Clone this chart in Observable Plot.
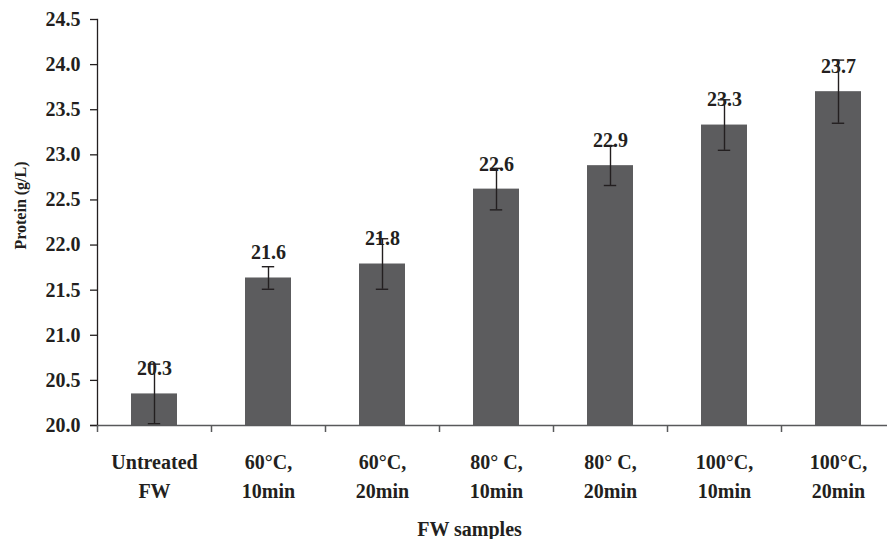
<!DOCTYPE html>
<html>
<head>
<meta charset="utf-8">
<script src="https://cdn.jsdelivr.net/npm/d3@7"></script>
<script src="https://cdn.jsdelivr.net/npm/@observablehq/plot@0.6"></script>
<style>
  html, body { margin: 0; padding: 0; background: #fff; }
  #wrap { width: 887px; height: 539px; overflow: hidden; }
  #wrap svg { max-width: none !important; }
  #wrap svg text { font-family: "Liberation Serif", "Times New Roman", serif !important; font-weight: bold; }
</style>
</head>
<body>
<div id="wrap"></div>
<script>
const categories = ["Untreated\nFW", "60°C,\n10min", "60°C,\n20min", "80° C,\n10min", "80° C,\n20min", "100°C,\n10min", "100°C,\n20min"];
const values = [20.35, 21.635, 21.79, 22.62, 22.88, 23.33, 23.70];
const errors = [0.33, 0.125, 0.28, 0.23, 0.22, 0.28, 0.35];
const valueLabels = ["20.3", "21.6", "21.8", "22.6", "22.9", "23.3", "23.7"];
const yTicks = [20.0, 20.5, 21.0, 21.5, 22.0, 22.5, 23.0, 23.5, 24.0, 24.5];

const data = categories.map((c, i) => ({cat: c, value: values[i], err: errors[i], label: valueLabels[i]}));

const ink = "#231f20";
const serif = "Liberation Serif";
const chart = Plot.plot({
  width: 895,
  height: 539,
  marginLeft: 97,
  marginRight: 0,
  marginTop: 19,
  marginBottom: 114,
  style: {fontFamily: "'Liberation Serif', 'Times New Roman', serif", fontWeight: "bold", fontSize: "20px", color: ink, background: "#fff", maxWidth: "none"},
  x: {domain: categories, paddingInner: 0.6, paddingOuter: 0.3, axis: null},
  y: {domain: [20, 24.5], axis: null},
  marks: [
    Plot.barY(data, {x: "cat", y1: 20, y2: "value", fill: "#5c5c5e"}),
    Plot.ruleX(data, {x: "cat", y1: d => d.value - d.err, y2: d => d.value + d.err, stroke: ink, strokeWidth: 1.4}),
    Plot.tickY(data, {x: "cat", y: d => d.value - d.err, stroke: ink, strokeWidth: 1.4, insetLeft: 16.8, insetRight: 16.8}),
    Plot.tickY(data, {x: "cat", y: d => d.value + d.err, stroke: ink, strokeWidth: 1.4, insetLeft: 16.8, insetRight: 16.8}),
    Plot.text(data, {x: "cat", y: "value", text: "label", dy: -25, lineAnchor: "middle", fontSize: 20, fontFamily: serif, fontWeight: "bold", fill: ink}),
    Plot.ruleY([20], {stroke: "#58595b", strokeWidth: 1.5, insetLeft: -7}),
    Plot.frame({anchor: "left", stroke: ink, strokeWidth: 1.3}),
    Plot.axisY({ticks: yTicks, tickFormat: d3.format(".1f"), tickSize: 7, tickPadding: 10, label: null, fontSize: 20, fontFamily: serif, fontWeight: "bold", stroke: ink, strokeWidth: 1.3}),
    Plot.axisX({tickSize: 0, tickPadding: 23, lineHeight: 1.45, label: null, fontSize: 20, fontFamily: serif, fontWeight: "bold"}),
    Plot.axisX({tickSize: 7, tickFormat: () => "", dx: -57, label: null, stroke: "#58595b", strokeWidth: 1.5}),
    Plot.text(["Protein (g/L)"], {frameAnchor: "left", textAnchor: "middle", lineAnchor: "middle", dx: -77, dy: -17, rotate: -90, fontSize: 16, fontFamily: serif, fontWeight: "bold", fill: ink}),
    Plot.text(["FW samples"], {frameAnchor: "bottom", textAnchor: "middle", dx: -27, dy: 104, lineAnchor: "middle", fontSize: 20, fontFamily: serif, fontWeight: "bold", fill: ink})
  ]
});
document.getElementById("wrap").appendChild(chart);
</script>
</body>
</html>
